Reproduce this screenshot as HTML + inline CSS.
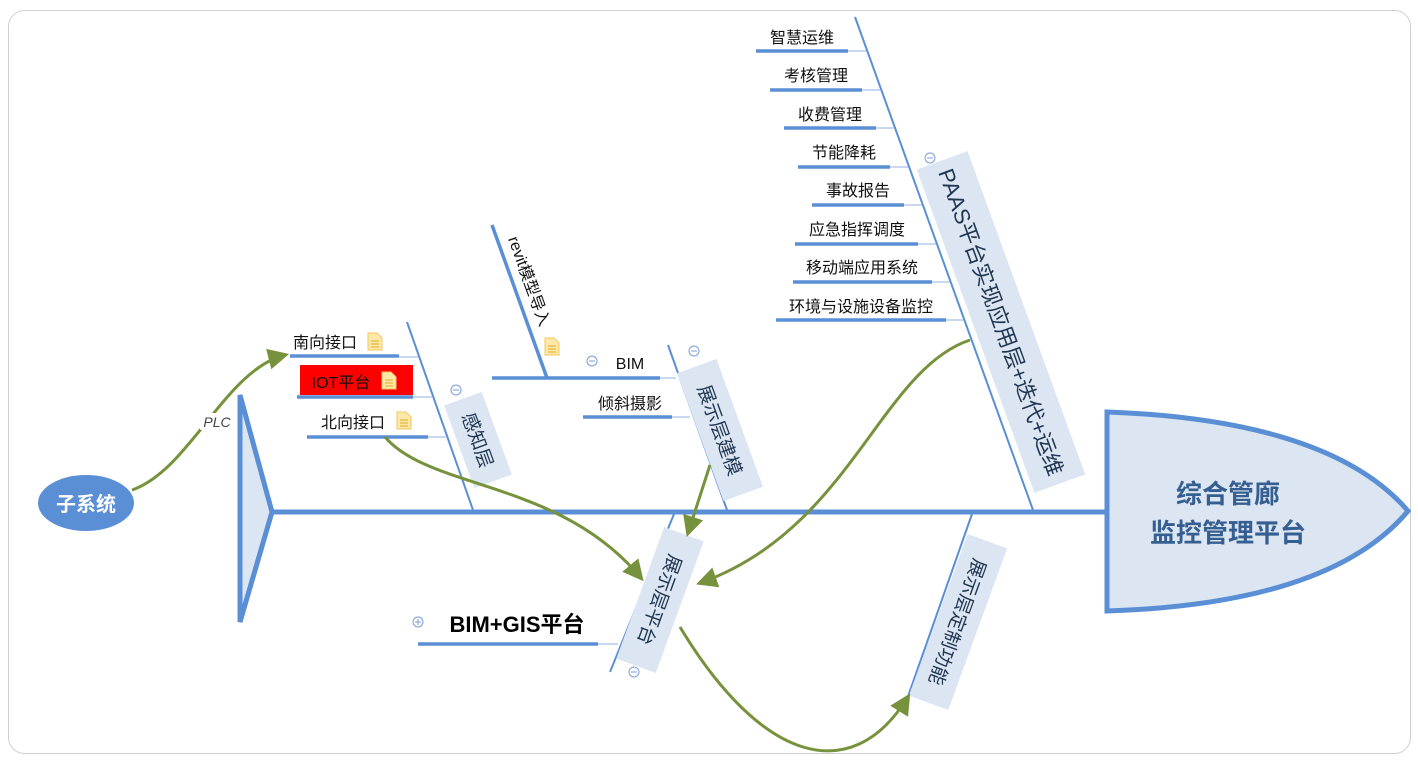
<!DOCTYPE html>
<html><head><meta charset="utf-8"><style>
html,body{margin:0;padding:0;background:#fff;}
svg{display:block;}
text{font-family:"Liberation Sans","Noto Sans CJK SC",sans-serif;}
</style></head><body>
<svg width="1418" height="769" viewBox="0 0 1418 769" xmlns="http://www.w3.org/2000/svg">
<defs>
<marker id="ar" viewBox="0 0 10 10" refX="8" refY="5" markerWidth="7" markerHeight="7" orient="auto" markerUnits="strokeWidth">
<path d="M0,0 L10,5 L0,10 z" fill="#77923c"/></marker>
<g id="doc"><path d="M0,0 h9 l5,5 v12 h-14 z" fill="#fde9a8" stroke="#f3c560" stroke-width="1"/><path d="M3,8h8M3,11h8M3,14h8" stroke="#e8b640" stroke-width="1.2"/></g>
</defs>
<rect x="8.5" y="10.5" width="1402" height="743" rx="16" fill="#fff" stroke="#cfcfcf"/>

<line x1="270" y1="512" x2="1108" y2="512" stroke="#5a8fd6" stroke-width="5"/>
<polygon points="240,395 272,512 240,622" fill="#dce6f2" stroke="#5a8fd6" stroke-width="5" stroke-linejoin="miter"/>
<path d="M1107,412 Q1330,420 1408,511 Q1330,604 1107,611 Z" fill="#dce6f2" stroke="#5a8fd6" stroke-width="5"/>
<text x="1228" y="503" text-anchor="middle" font-size="26" font-weight="bold" fill="#365f91">综合管廊</text>
<text x="1228" y="542" text-anchor="middle" font-size="26" font-weight="bold" fill="#365f91">监控管理平台</text>

<g stroke="#5a8fd6" stroke-width="2">
<line x1="407" y1="322" x2="473" y2="510"/>
<line x1="668" y1="345" x2="727" y2="510"/>
<line x1="855" y1="17" x2="1033" y2="510"/>
<line x1="674" y1="514" x2="610" y2="672"/>
<line x1="972" y1="514" x2="905" y2="705"/>
</g>

<g stroke="#5a8fd6" stroke-width="3.5">
<line x1="290" y1="356" x2="399" y2="356"/>
<line x1="297" y1="397" x2="413" y2="397"/>
<line x1="307" y1="437" x2="428" y2="437"/>
<line x1="492" y1="378" x2="660" y2="378"/>
<line x1="583" y1="417" x2="672" y2="417"/>
<line x1="492" y1="225" x2="547" y2="378"/>
<line x1="756" y1="51" x2="848" y2="51"/>
<line x1="770" y1="90" x2="862" y2="90"/>
<line x1="784" y1="128" x2="876" y2="128"/>
<line x1="798" y1="167" x2="890" y2="167"/>
<line x1="812" y1="205" x2="904" y2="205"/>
<line x1="795" y1="244" x2="918" y2="244"/>
<line x1="793" y1="282" x2="932" y2="282"/>
<line x1="776" y1="320" x2="946" y2="320"/>
<line x1="418" y1="644" x2="598" y2="644"/>
</g>
<g stroke="#8fb0e0" stroke-width="1">
<line x1="399" y1="357" x2="418" y2="357"/>
<line x1="413" y1="397" x2="433" y2="397"/>
<line x1="428" y1="437" x2="447" y2="437"/>
<line x1="660" y1="378" x2="676" y2="378"/>
<line x1="672" y1="417" x2="690" y2="417"/>
<line x1="848" y1="51" x2="866" y2="51"/>
<line x1="862" y1="90" x2="880" y2="90"/>
<line x1="876" y1="128" x2="894" y2="128"/>
<line x1="890" y1="167" x2="908" y2="167"/>
<line x1="904" y1="205" x2="922" y2="205"/>
<line x1="918" y1="244" x2="936" y2="244"/>
<line x1="932" y1="282" x2="950" y2="282"/>
<line x1="946" y1="320" x2="964" y2="320"/>
<line x1="598" y1="644" x2="618" y2="644"/>
</g>

<g transform="translate(478,440) rotate(70)"><rect x="-44" y="-20" width="88" height="40" fill="#dce6f2"/><text x="0" y="7" text-anchor="middle" font-size="19" fill="#1f3550">感知层</text></g>
<g transform="translate(720,430) rotate(70)"><rect x="-68" y="-21" width="136" height="42" fill="#dce6f2"/><text x="0" y="7" text-anchor="middle" font-size="19" fill="#1f3550">展示层建模</text></g>
<g transform="translate(1001,322) rotate(70)"><rect x="-172" y="-27" width="344" height="54" fill="#dce6f2"/><text x="0" y="8" text-anchor="middle" font-size="22" fill="#1f3550">PAAS平台实现应用层+迭代+运维</text></g>
<g transform="translate(660,600) rotate(110)"><rect x="-70" y="-21" width="140" height="42" fill="#dce6f2"/><text x="0" y="7" text-anchor="middle" font-size="19" fill="#1f3550">展示层平台</text></g>
<g transform="translate(958,622) rotate(110)"><rect x="-86" y="-21" width="172" height="42" fill="#dce6f2"/><text x="0" y="7" text-anchor="middle" font-size="19" fill="#1f3550">展示层定制功能</text></g>

<rect x="300" y="365" width="113" height="30" fill="#ff0000"/>

<g font-size="16" fill="#111" text-anchor="middle">
<text x="325" y="348">南向接口</text>
<text x="341" y="388">IOT平台</text>
<text x="353" y="428">北向接口</text>
<text x="630" y="369">BIM</text>
<text x="630" y="409">倾斜摄影</text>
<text x="802" y="43">智慧运维</text>
<text x="816" y="81">考核管理</text>
<text x="830" y="120">收费管理</text>
<text x="844" y="158">节能降耗</text>
<text x="858" y="196">事故报告</text>
<text x="857" y="235">应急指挥调度</text>
<text x="862" y="273">移动端应用系统</text>
<text x="861" y="312">环境与设施设备监控</text>
</g>
<text transform="translate(524,283) rotate(70)" x="0" y="0" text-anchor="middle" font-size="16" fill="#111">revit模型导入</text>
<text x="517" y="632" text-anchor="middle" font-size="22" font-weight="bold" fill="#000">BIM+GIS平台</text>

<use href="#doc" x="368" y="333"/>
<use href="#doc" x="382" y="372"/>
<use href="#doc" x="397" y="412"/>
<use href="#doc" x="545" y="338"/>

<g fill="#fff" stroke="#7a9fd8" stroke-width="1">
<circle cx="456" cy="390" r="5"/><circle cx="592" cy="361" r="5"/><circle cx="694" cy="351" r="5"/>
<circle cx="930" cy="158" r="5"/><circle cx="634" cy="672" r="5"/><circle cx="418" cy="622" r="5"/>
</g>
<g stroke="#7a9fd8" stroke-width="1">
<path d="M453,390h6M589,361h6M691,351h6M927,158h6M631,672h6M415,622h6M418,619v6"/>
</g>

<ellipse cx="86" cy="503" rx="48" ry="28" fill="#5a8fd6"/>
<text x="86" y="511" text-anchor="middle" font-size="20" font-weight="bold" fill="#fff">子系统</text>

<g fill="none" stroke="#77923c" stroke-width="3" marker-end="url(#ar)">
<path d="M132,490 C190,470 225,370 285,355"/>
<path d="M385,437 C430,490 560,480 641,578"/>
<path d="M710,465 L688,533"/>
<path d="M970,340 C880,370 850,530 700,583"/>
<path d="M680,627 C760,760 850,790 908,697"/>
</g>
<rect x="200" y="413" width="34" height="17" fill="#fff"/>
<text x="217" y="427" text-anchor="middle" font-size="14" font-style="italic" fill="#444">PLC</text>
</svg>
</body></html>
